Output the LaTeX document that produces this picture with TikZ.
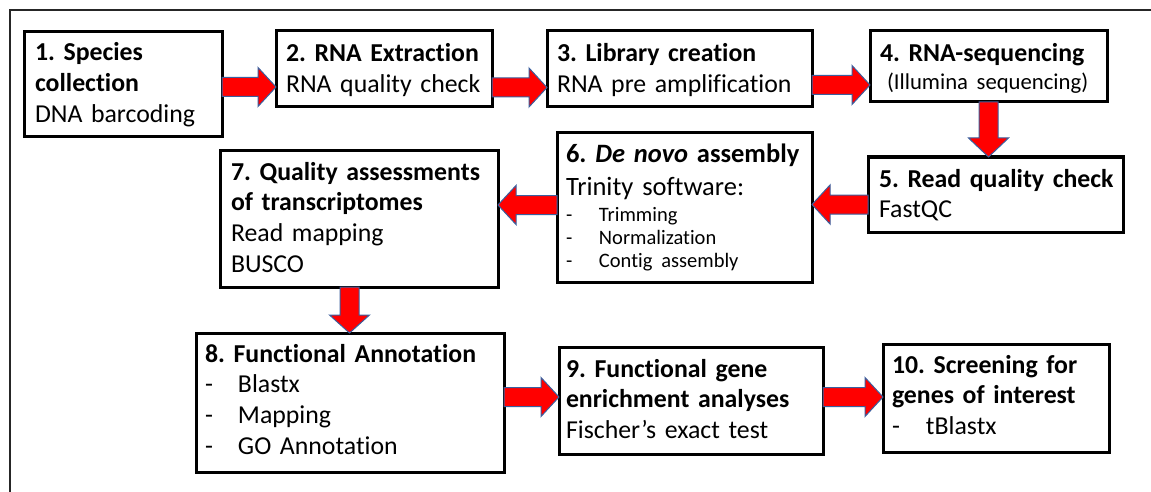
\documentclass[tikz,border=0pt]{standalone}
\usepackage{fontspec}
\setmainfont{Carlito}[Ligatures=CommonOff]
\usetikzlibrary{calc}
\frenchspacing
\definecolor{arrowblue}{HTML}{3A5F9E}
\tikzset{
  box/.style={draw=black, line width=3pt, inner sep=0pt, outer sep=0pt, fill=white},
  txt/.style={anchor=base west, inner sep=0pt, outer sep=0pt, text width=330pt, align=left,
              font={\frenchspacing\fontsize{25.8}{30.7}\selectfont}},
  blk/.style={fill=red, draw=arrowblue, line width=1pt, line join=miter},
  frame/.style={draw=black!85, line width=1.5pt}
}
\newcommand\boxat[5]{\node[box, minimum width={#4-#2}, minimum height={#5-#3}] (#1) at ({(#2+#4)/2},{(#3+#5)/2}) {};}
% horizontal block arrow: from node anchor #1 to node anchor #2 at y=#3, signed head length #4
\newcommand\harr[4]{\path[blk] let \p1=(#1), \p2=(#2) in
  (\x1,#3-9.5) -- ({\x2-(#4)},#3-9.5) -- ({\x2-(#4)},#3-19.5) -- (\x2,#3)
  -- ({\x2-(#4)},#3+19.5) -- ({\x2-(#4)},#3+9.5) -- (\x1,#3+9.5) -- cycle;}
% vertical (downward) block arrow at x=#3, head length #4
\newcommand\varr[4]{\path[blk] let \p1=(#1), \p2=(#2) in
  (#3-9.5,\y1) -- (#3-9.5,{\y2+(#4)}) -- (#3-20,{\y2+(#4)}) -- (#3,\y2)
  -- (#3+20,{\y2+(#4)}) -- (#3+9.5,{\y2+(#4)}) -- (#3+9.5,\y1) -- cycle;}
\newcommand\itm[2]{\makebox[#1][l]{-}#2}
\begin{document}
\begin{tikzpicture}[x=1pt,y=-1pt]
\useasboundingbox (0,0) rectangle (1151,492);
\fill[white] (0,0) rectangle (1151,492);
\draw[frame] (10,492) -- (10,10) -- (1151,10);

\boxat{b1}{24}{32}{222}{137}
\boxat{b2}{276}{31}{492}{107}
\boxat{b3}{547}{31}{812}{107}
\boxat{b4}{870}{31}{1107}{102}
\boxat{b5}{868}{157}{1123}{232}
\boxat{b6}{557}{133}{812}{282}
\boxat{b7}{220}{151}{498}{287}
\boxat{b8}{196}{333}{504}{472}
\boxat{b9}{559}{347}{823}{454}
\boxat{b10}{883}{344}{1109}{452}

\node[txt] (t1) at (35,61) {\textbf{1. Species}\\\textbf{collection}\\DNA barcoding};
\node[txt] (t2) at (286,62) {\textbf{2. RNA Extraction}\\RNA quality check};
\node[txt] (t3) at (557,62) {\textbf{3. Library creation}\\RNA pre amplification};
\node[txt] (t4) at (880,62) {\textbf{4. RNA-sequencing}\par
  {\fontsize{22.7}{28}\selectfont\hspace*{7pt}(Illumina sequencing)\par}};
\node[txt] (t5) at (879,187) {\textbf{5. Read quality check}\\FastQC};
\node[txt, font={\frenchspacing\fontsize{26.5}{33}\selectfont}] (t6) at (566,162) {\textbf{6. \textit{De novo} assembly}\\Trinity software:\par\vspace{3pt}
  {\fontsize{20.5}{23}\selectfont\itm{33pt}{Trimming}\\\itm{33pt}{Normalization}\\\itm{33pt}{Contig assembly}\par}};
\node[txt] (t7) at (231,180) {\textbf{7. Quality assessments}\\\textbf{of transcriptomes}\\Read mapping\\BUSCO};
\node[txt] (t8) at (205,362) {\textbf{8. Functional Annotation}\\\itm{33pt}{Blastx}\\\itm{33pt}{Mapping}\\\itm{33pt}{GO Annotation}};
\node[txt] (t9) at (566,377) {\textbf{9. Functional gene}\\\textbf{enrichment analyses}\\Fischer’s exact test};
\node[txt] (t10) at (892,373) {\textbf{10. Screening for}\\\textbf{genes of interest}\\\itm{34pt}{tBlastx}};

\harr{b1.east}{b2.west}{87}{18}
\harr{b2.east}{b3.west}{87.5}{18}
\harr{b3.east}{b4.west}{85}{18}
\varr{b4.south}{b5.north}{988.5}{19}
\harr{b5.west}{b6.east}{204.5}{-18}
\harr{b6.west}{b7.east}{205}{-18}
\varr{b7.south}{b8.north}{349.5}{18}
\harr{b8.east}{b9.west}{397}{18}
\harr{b9.east}{b10.west}{397}{18}
\end{tikzpicture}
\end{document}
